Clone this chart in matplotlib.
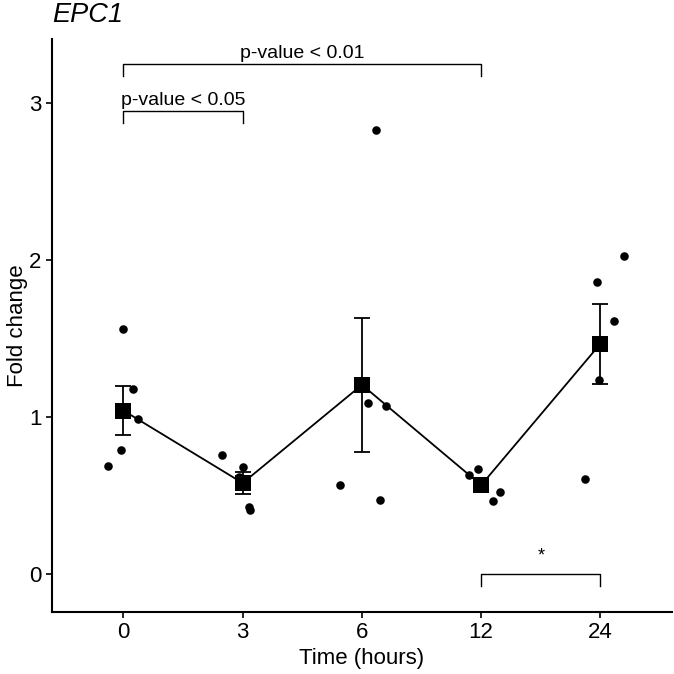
import numpy as np
import matplotlib.pyplot as plt

plt.rcParams['font.family'] = ['Liberation Sans', 'DejaVu Sans']

times = ["0", "3", "6", "12", "24"]
# individual replicates per time point
vals_0 = [0.69, 1.56, 0.79, 1.18, 0.99]
vals_3 = [0.76, 0.68, 0.62, 0.43, 0.41]
vals_6 = [2.83, 1.09, 1.07, 0.57, 0.47]
vals_12 = [0.63, 0.67, 0.55, 0.52, 0.465]
vals_24 = [2.03, 1.86, 1.61, 1.235, 0.605]
# horizontal jitter of the dots (category units)
jit_0 = [-0.13, 0.0, -0.02, 0.08, 0.12]
jit_3 = [-0.17, 0.0, -0.03, 0.05, 0.06]
jit_6 = [0.12, 0.05, 0.20, -0.18, 0.15]
jit_12 = [-0.10, -0.03, 0.0, 0.16, 0.10]
jit_24 = [0.20, -0.03, 0.11, -0.01, -0.13]

all_vals = [vals_0, vals_3, vals_6, vals_12, vals_24]
all_jit = [jit_0, jit_3, jit_6, jit_12, jit_24]

# significance brackets: (from, to, height, label)
brackets = [(1, 4, 3.25, "p-value < 0.01"),
            (1, 2, 2.95, "p-value < 0.05"),
            (4, 5, 0.0, "*")]

fig = plt.figure(figsize=(6.74, 6.74), dpi=100)
ax = fig.add_axes([0.077, 0.092, 0.92, 0.85])

pos = np.arange(1, len(times) + 1)
means = np.array([np.mean(v) for v in all_vals])
ses = np.array([np.std(v, ddof=1) / np.sqrt(len(v)) for v in all_vals])

for p, v, j in zip(pos, all_vals, all_jit):
    ax.scatter(p + np.array(j), v, s=38, c="black", zorder=3, linewidths=0)

ax.plot(pos, means, color="black", lw=1.3, zorder=2)
ax.errorbar(pos, means, yerr=ses, fmt="none", ecolor="black", elinewidth=1.3,
            capsize=6, capthick=1.3, zorder=2)
ax.scatter(pos, means, marker="s", s=120, c="black", zorder=4, linewidths=0)

for x1, x2, h, lab in brackets:
    tip = 0.075
    ax.plot([x1, x1, x2, x2], [h - tip, h, h, h - tip], color="black", lw=1.0)
    if lab == "*":
        ax.text((x1 + x2) / 2, h + 0.06, lab, ha="center", va="bottom", fontsize=13)
    else:
        ax.text((x1 + x2) / 2, h + 0.015, lab, ha="center", va="bottom", fontsize=14)

ax.set_xlim(0.4, 5.6)
ax.set_ylim(-0.242, 3.41)
ax.set_xticks(pos)
ax.set_xticklabels(times)
ax.set_yticks([0, 1, 2, 3])
ax.tick_params(axis="both", labelsize=16, length=4, width=1.2, direction="out")
for s in ["top", "right"]:
    ax.spines[s].set_visible(False)
for s in ["left", "bottom"]:
    ax.spines[s].set_linewidth(1.5)

ax.set_xlabel("Time (hours)", fontsize=16, labelpad=3)
ax.set_ylabel("Fold change", fontsize=16, labelpad=1)
ax.set_title("EPC1", fontsize=19.5, style="italic", loc="left", pad=12)

fig.savefig("out.png", dpi=100)
